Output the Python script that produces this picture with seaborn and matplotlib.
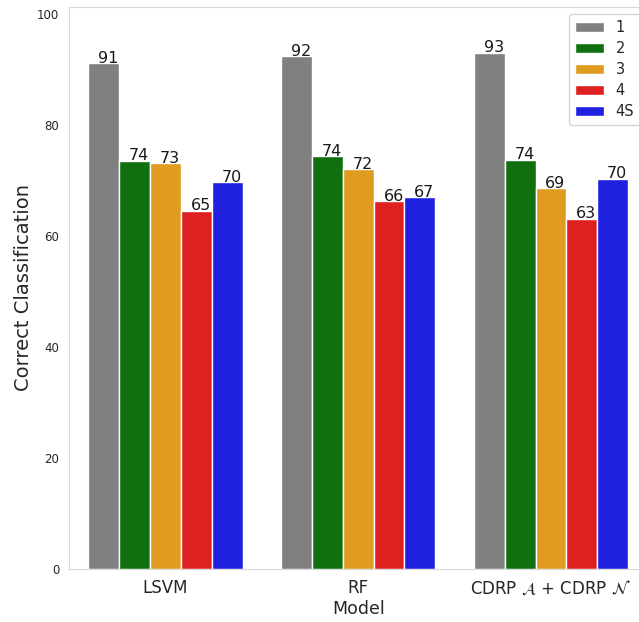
import pandas as pd
import seaborn as sns
import matplotlib.pyplot as plt

models = ["LSVM", "RF", "CDRP $\\mathcal{A}$ + CDRP $\\mathcal{N}$"]
classes = ["1", "2", "3", "4", "4S"]
acc_lsvm = [91.1, 73.6, 73.1, 64.6, 69.7]
acc_rf = [92.4, 74.4, 72.0, 66.3, 67.0]
acc_cdrp = [93.0, 73.7, 68.6, 63.1, 70.3]
colors = ["gray", "green", "orange", "red", "blue"]

# tabla en formato largo para seaborn
rows = []
for m, vals in zip(models, [acc_lsvm, acc_rf, acc_cdrp]):
    for c, v in zip(classes, vals):
        rows.append({"Model": m, "Class": c, "Correct Classification": v})
df = pd.DataFrame(rows)

sns.set_style("white", {"axes.edgecolor": ".85"})

fig = plt.figure(figsize=(6.39, 6.22), dpi=100)
ax = fig.add_axes([0.108, 0.085, 0.905, 0.904])

sns.barplot(data=df, x="Model", y="Correct Classification", hue="Class",
            palette=colors, ax=ax)

# etiquetas encima de cada barra
for cont in ax.containers:
    for bar in cont:
        h = bar.get_height()
        ax.text(bar.get_x() + bar.get_width() * 0.32, h + 0.1, f"{h:.0f}",
                ha="left", va="baseline", fontsize=11.5, color="0.1")

ax.set_ylim(0, 101.3)
ax.set_yticks([0, 20, 40, 60, 80, 100])
ax.tick_params(axis="y", labelsize=8.5)
ax.tick_params(axis="x", labelsize=12)
ax.set_xlabel("Model", fontsize=12.5, labelpad=2)
ax.set_ylabel("Correct Classification", fontsize=14, labelpad=3)
ax.legend(loc="upper right", fontsize=10.5, title=None, labelspacing=0.42)

fig.savefig("out.png", dpi=100)
